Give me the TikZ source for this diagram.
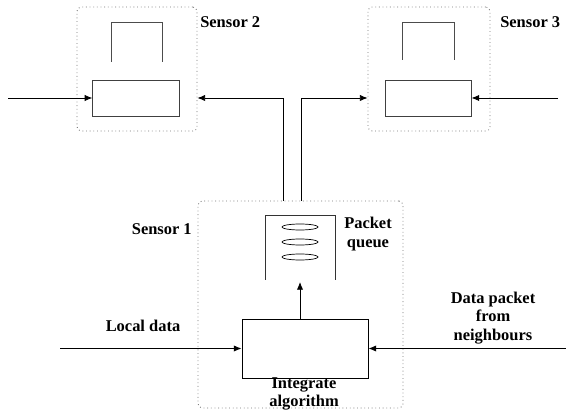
\documentclass[tikz,border=0pt]{standalone}
\usepackage{fontspec}
\setmainfont{Liberation Serif}
\usetikzlibrary{arrows.meta,shapes}
\tikzset{
  sensor/.style={draw=black!55,dotted,line width=0.6pt,rounded corners=3pt},
  block/.style={draw=black!75,line width=0.7pt},
  cup/.style={draw=black!70,line width=0.7pt},
  arr/.style={line width=0.6pt,-{Latex[length=5.5pt,width=4.5pt]}},
  lbl/.style={font=\fontsize{11.7}{13}\selectfont\bfseries,align=center,inner sep=0pt}
}
\begin{document}
\begin{tikzpicture}
  \useasboundingbox (0,0) rectangle (14.15,10.25);

  % sensor 2
  \node[sensor,minimum width=3cm,minimum height=3.1cm] (s2) at (3.425,8.525) {};
  \node[lbl,anchor=west] (t2) at (5.0,9.7) {Sensor 2};
  \draw[cup] (2.775,8.7) -- (2.775,9.7) -- (4.05,9.7) -- (4.05,8.7);
  \node[block,minimum width=2.175cm,minimum height=0.9cm] (r2) at (3.41,7.8) {};
  \coordinate (in2) at (0.2,7.8);
  \draw[arr] (in2) -- (r2);

  % sensor 3
  \node[sensor,minimum width=3.05cm,minimum height=3.1cm] (s3) at (10.725,8.525) {};
  \node[lbl,anchor=west] (t3) at (12.5,9.7) {Sensor 3};
  \draw[cup] (10.05,8.75) -- (10.05,9.7) -- (11.35,9.7) -- (11.35,8.75);
  \node[block,minimum width=2.15cm,minimum height=0.9cm] (r3) at (10.7,7.8) {};
  \coordinate (in3) at (13.95,7.8);
  \draw[arr] (in3) -- (r3);

  % sensor 1
  \node[sensor,minimum width=5.125cm,minimum height=5.175cm] (s1) at (7.5125,2.6375) {};
  \node[lbl,anchor=east] (t1) at (4.8,4.525) {Sensor 1};

  % links between sensors
  \coordinate (ql) at (7.075,5.225);
  \coordinate (qr) at (7.525,5.225);
  \draw[arr] (ql) |- (r2 -| s2.east);
  \draw[arr] (qr) |- (r3 -| s3.west);

  % packet queue
  \draw[cup,draw=black!80] (6.625,3.25) -- (6.625,4.875) -- (8.375,4.875) -- (8.375,3.25);
  \foreach \y in {4.575,4.2,3.825}
    \draw[line width=0.5pt] (7.5,\y) ellipse (0.45 and 0.075);
  \node[lbl] (pq) at (9.2,4.4) {Packet\\queue};
  \coordinate (qb) at (7.5,3.2);

  % integrate algorithm
  \node[block,draw=black,minimum width=3.15cm,minimum height=1.475cm] (ia) at (7.625,1.5375) {};
  \node[lbl] (ial) at (7.6,0.41) {Integrate\\algorithm};
  \draw[arr] (ia.north -| qb) -- (qb);

  % inputs
  \node[lbl] (ld) at (3.575,2.1) {Local data};
  \coordinate (lin) at (1.5,1.5375);
  \draw[arr] (lin) -- (ia);
  \node[lbl] (dp) at (12.325,2.3) {Data packet\\from\\neighbours};
  \coordinate (rin) at (14.15,1.5375);
  \draw[arr] (rin) -- (ia);

\end{tikzpicture}
\end{document}
